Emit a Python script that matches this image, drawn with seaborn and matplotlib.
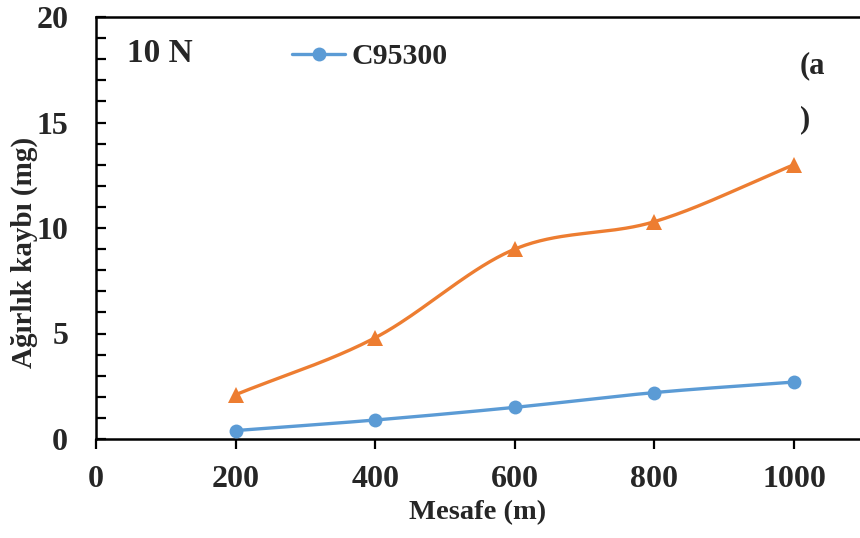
import numpy as np
import pandas as pd
import matplotlib
matplotlib.use("Agg")
import matplotlib.pyplot as plt
import seaborn as sns

# Data
distance = [200, 400, 600, 800, 1000]
c95300 = [0.4, 0.9, 1.5, 2.2, 2.7]
second_series = [2.1, 4.8, 9.0, 10.3, 13.0]
x_ticks = [0, 200, 400, 600, 800, 1000]
y_ticks = [0, 5, 10, 15, 20]

sns.set_theme(style="white")
plt.rcParams["font.family"] = ["Liberation Serif", "DejaVu Serif"]
plt.rcParams["font.weight"] = "bold"

BLUE = "#5B9BD5"
ORANGE = "#ED7D31"


def smooth(xs, ys, n=40):
    """Catmull-Rom path through the points, like a smoothed chart line."""
    xs = np.asarray(xs, float)
    ys = np.asarray(ys, float)
    px = np.concatenate([[2 * xs[0] - xs[1]], xs, [2 * xs[-1] - xs[-2]]])
    py = np.concatenate([[2 * ys[0] - ys[1]], ys, [2 * ys[-1] - ys[-2]]])
    outx, outy = [], []
    t = np.linspace(0, 1, n)
    for i in range(1, len(px) - 2):
        for arr, out in ((px, outx), (py, outy)):
            p0, p1, p2, p3 = arr[i - 1], arr[i], arr[i + 1], arr[i + 2]
            seg = 0.5 * ((2 * p1) + (-p0 + p2) * t
                         + (2 * p0 - 5 * p1 + 4 * p2 - p3) * t ** 2
                         + (-p0 + 3 * p1 - 3 * p2 + p3) * t ** 3)
            out.extend(seg if i == 1 else seg[1:])
    return np.array(outx), np.array(outy)


fig = plt.figure(figsize=(8.6, 5.38), dpi=100)
ax = fig.add_axes([96 / 860, 1 - 439 / 538, 764 / 860, 422 / 538])

for ys, color, marker, msize in (
    (second_series, ORANGE, "^", 11),
    (c95300, BLUE, "o", 10),
):
    sx, sy = smooth(distance, ys)
    curve = pd.DataFrame({"x": sx, "y": sy})
    sns.lineplot(data=curve, x="x", y="y", sort=False, ax=ax, color=color,
                 linewidth=2.4, legend=False)
    pts = pd.DataFrame({"x": distance, "y": ys})
    ax.plot(pts["x"], pts["y"], linestyle="none", marker=marker,
            markersize=msize, color=color, markeredgewidth=0, zorder=3)

# legend entry for the blue series only
ax.plot([], [], color=BLUE, linewidth=2.4, marker="o", markersize=10,
        markeredgewidth=0, label="C95300")
ax.legend(loc="center left", bbox_to_anchor=((292 - 96) / 764, (439 - 57) / 422),
          frameon=False, handlelength=1.78, handletextpad=0.2, borderpad=0,
          borderaxespad=0, prop={"family": "Liberation Serif", "weight": "bold", "size": 21.5})

ax.set_xlim(0, 764 / 0.698)
ax.set_ylim(0, 20)
ax.set_xticks(x_ticks)
ax.set_yticks(y_ticks)
ax.set_yticks(np.arange(0, 21, 1), minor=True)
ax.tick_params(axis="x", direction="out", length=7, width=1.6, color="black",
               labelsize=23, pad=12, bottom=True)
ax.tick_params(axis="y", which="both", direction="in", length=7, width=1.6,
               color="black", labelsize=23, pad=20, left=True)

for side in ("left", "bottom", "top"):
    ax.spines[side].set_visible(True)
    ax.spines[side].set_color("black")
    ax.spines[side].set_linewidth(1.8)
ax.spines["right"].set_visible(False)

ax.set_xlabel("Mesafe (m)", fontsize=20.5, fontweight="bold", labelpad=4)
ax.set_ylabel("Ağırlık kaybı (mg)", fontsize=21, fontweight="bold")
ax.yaxis.set_label_coords(-0.076, 0.443)

ax.text((127 - 96) / 764, (439 - 54) / 422, "10 N", transform=ax.transAxes,
        fontsize=24, fontweight="bold", va="center", ha="left")
ax.text((800 - 96) / 764, (439 - 66) / 422, "(a", transform=ax.transAxes,
        fontsize=22, fontweight="bold", va="center", ha="left")
ax.text((800 - 96) / 764, (439 - 120) / 422, ")", transform=ax.transAxes,
        fontsize=22, fontweight="bold", va="center", ha="left")

for lab in ax.get_xticklabels() + ax.get_yticklabels():
    lab.set_fontweight("bold")

fig.savefig("out.png", dpi=100)
